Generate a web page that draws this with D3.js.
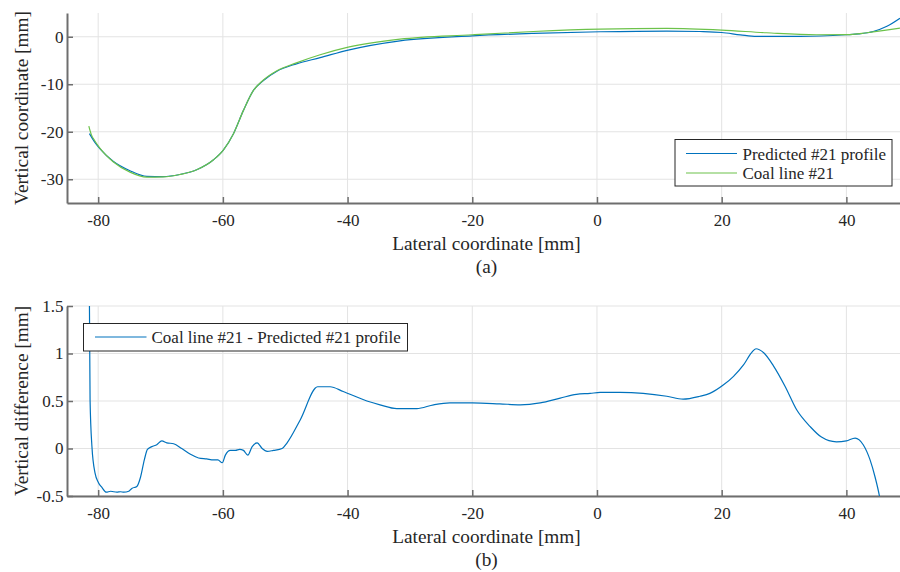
<!DOCTYPE html>
<html>
<head>
<meta charset="utf-8">
<script src="https://cdn.jsdelivr.net/npm/d3@7/dist/d3.min.js"></script>
<style>
  html, body { margin: 0; padding: 0; background: #fff; }
  svg, svg text { font-family: "Liberation Serif", "DejaVu Serif", "Times New Roman", Times, serif; }
</style>
</head>
<body>
<svg id="chart" width="900" height="572"></svg>
<script>
// Profile #21: predicted profile vs. measured coal line (lateral / vertical, mm)
const predictedX = [-81.4, -80.5, -79.7, -77.6, -74.9, -72.2, -69.6, -66.9, -64.2, -61.5, -59.9, -58.3, -56.7, -55.1, -53.5, -51.4, -48.2, -44.4, -39.9, -31.6, -20, -10.2, 0.5, 11.2, 16.5, 20, 23, 25.6, 32.6, 40, 42, 44.3, 46.5, 48.6];
const predictedY = [-20.4, -22.3, -23.6, -26.2, -28.2, -29.4, -29.45, -29.0, -28.0, -25.9, -23.8, -20.4, -15.5, -11.3, -9.2, -7.3, -5.7, -4.4, -2.8, -0.85, 0.2, 0.7, 1.05, 1.2, 1.1, 0.9, 0.4, 0.06, 0.06, 0.42, 0.6, 1.1, 2.2, 3.9];

const coalX = [-81.5, -81.1, -80.5, -79.7, -77.6, -74.9, -72.2, -69.6, -66.9, -64.2, -61.5, -59.9, -58.3, -56.7, -55.1, -53.5, -51.4, -48.2, -44.4, -39.9, -31.6, -20, -10.2, 0.5, 11.2, 20, 27.2, 35.2, 40, 43.3, 48.6];
const coalY = [-18.8, -20.6, -22.0, -23.5, -26.3, -28.5, -29.55, -29.5, -29.0, -28.0, -25.9, -23.8, -20.4, -15.5, -11.3, -9.1, -7.2, -5.5, -3.8, -2.2, -0.5, 0.42, 1.1, 1.6, 1.75, 1.4, 0.84, 0.42, 0.45, 0.84, 1.8];

// Difference: coal line minus predicted profile
const diffX = [-81.6, -81.4, -81.3, -81.0, -80.5, -79.95, -79.4, -78.7, -78.0, -77.0, -76.4, -75.9, -75.1, -74.6, -73.8, -73.2, -72.6, -72.1, -71.4, -70.6, -69.8, -69.0, -67.9, -66.6, -65.2, -63.9, -62.6, -61.5, -60.8, -60.1, -59.6, -58.8, -58.0, -57.3, -56.7, -56.0, -55.3, -54.5, -53.7, -52.9, -51.9, -50.5, -49.7, -47.6, -44.8, -42.8, -40.7, -36.9, -34.8, -32.1, -28.9, -26.2, -23.6, -20, -15.6, -12.3, -9.1, -5.9, -3.3, -1.1, 0.5, 3.7, 7.4, 11.2, 13.8, 16.5, 18.1, 20.3, 21.9, 23.5, 24.8, 25.5, 26.7, 28.3, 30.2, 32.0, 34.2, 36.0, 38.4, 40, 41.4, 42.7, 43.8, 44.6, 45.3, 45.8];
const diffY = [2.0, 1.5, 0.51, 0.02, -0.26, -0.36, -0.41, -0.46, -0.45, -0.46, -0.455, -0.46, -0.45, -0.42, -0.40, -0.30, -0.12, -0.01, 0.02, 0.04, 0.08, 0.06, 0.05, 0.00, -0.06, -0.10, -0.11, -0.12, -0.12, -0.15, -0.07, -0.02, -0.02, -0.01, -0.02, -0.07, 0.02, 0.06, 0.00, -0.03, -0.02, 0.00, 0.06, 0.30, 0.65, 0.65, 0.60, 0.50, 0.46, 0.42, 0.42, 0.46, 0.48, 0.48, 0.47, 0.46, 0.48, 0.53, 0.57, 0.58, 0.59, 0.59, 0.58, 0.55, 0.52, 0.55, 0.58, 0.67, 0.76, 0.88, 1.01, 1.05, 1.01, 0.87, 0.65, 0.41, 0.23, 0.12, 0.07, 0.08, 0.11, 0.04, -0.12, -0.30, -0.50, -0.7];

const xTicks = [-80, -60, -40, -20, 0, 20, 40];
const yTicksTop = [-30, -20, -10, 0];
const yTicksBottom = [-0.5, 0, 0.5, 1, 1.5];
const yTickLabelsBottom = ["-0.5", "0", "0.5", "1", "1.5"];

const seriesNames = ["Predicted #21 profile", "Coal line #21"];
const diffName = "Coal line #21 - Predicted #21 profile";

const FONT = '"Liberation Serif", "DejaVu Serif", "Times New Roman", Times, serif';
const BLUE = "#0072BD";
const GREEN = "#6cc24a";
const GRID = "#e3e3e3";
const AXIS = "#6e6e6e";
const TEXT = "#262626";

const svg = d3.select("#chart");
const xDomain = [-85, 48.6];
const left = 67, right = 900;

function label(g, x, y, txt, size, rotate) {
  const t = g.append("text")
    .attr("text-anchor", "middle").attr("fill", TEXT)
    .attr("font-family", FONT).attr("font-size", size)
    .text(txt);
  if (rotate) t.attr("transform", `translate(${x},${y}) rotate(-90)`);
  else t.attr("x", x).attr("y", y);
  return t;
}

function panel(opts) {
  const { top, bottom, yDomain, yTicks, yFmt, yLabel, caption, id } = opts;
  const x = d3.scaleLinear().domain(xDomain).range([left, right]);
  const y = d3.scaleLinear().domain(yDomain).range([bottom, top]);
  const g = svg.append("g");

  // grid
  g.append("g").selectAll("line").data(xTicks).join("line")
    .attr("x1", d => x(d)).attr("x2", d => x(d))
    .attr("y1", top).attr("y2", bottom)
    .attr("stroke", GRID).attr("stroke-width", 1);
  g.append("g").selectAll("line").data(yTicks).join("line")
    .attr("x1", left).attr("x2", right)
    .attr("y1", d => y(d)).attr("y2", d => y(d))
    .attr("stroke", GRID).attr("stroke-width", 1);

  // clip region for the data lines
  svg.append("clipPath").attr("id", id)
    .append("rect").attr("x", left).attr("y", top)
    .attr("width", right - left).attr("height", bottom - top);

  // axes with inward ticks
  const ax = g.append("g").attr("transform", `translate(0,${bottom})`)
    .call(d3.axisBottom(x).tickValues(xTicks).tickSize(-6).tickSizeOuter(0).tickPadding(11)
      .tickFormat(d => d < 0 ? "-" + Math.abs(d) : String(d)));
  const ay = g.append("g").attr("transform", `translate(${left},0)`)
    .call(d3.axisLeft(y).tickValues(yTicks).tickSize(-6).tickSizeOuter(0).tickPadding(3.5).tickFormat(yFmt));
  [ax, ay].forEach(a => {
    a.attr("font-family", FONT).attr("font-size", 17);
    a.select(".domain").attr("stroke", AXIS).attr("stroke-width", 2);
    a.selectAll(".tick line").attr("stroke", AXIS).attr("stroke-width", 1.5);
    a.selectAll(".tick text").attr("fill", TEXT);
  });

  // titles
  label(g, (left + right) / 2 + 3, bottom + 47, "Lateral coordinate [mm]", 19.3);
  label(g, (left + right) / 2 + 3, bottom + 70, caption, 19.3);
  label(g, 28, (top + bottom) / 2, yLabel, 19.3, true);

  return { x, y, g };
}

// Panel (a)
const pa = panel({
  top: 13, bottom: 203, yDomain: [-35, 5], yTicks: yTicksTop,
  yFmt: d => d < 0 ? "-" + Math.abs(d) : String(d),
  yLabel: "Vertical coordinate [mm]", caption: "(a)", id: "clipA"
});
const lineA = d3.line().x(d => pa.x(d[0])).y(d => pa.y(d[1])).curve(d3.curveMonotoneX);
pa.g.append("path").datum(d3.zip(predictedX, predictedY)).attr("d", lineA)
  .attr("clip-path", "url(#clipA)")
  .attr("fill", "none").attr("stroke", BLUE).attr("stroke-width", 1.2);
pa.g.append("path").datum(d3.zip(coalX, coalY)).attr("d", lineA)
  .attr("clip-path", "url(#clipA)")
  .attr("fill", "none").attr("stroke", GREEN).attr("stroke-width", 1.2);

// legend (a)
const lgA = pa.g.append("g").attr("transform", "translate(675,139.5)");
lgA.append("rect").attr("width", 217).attr("height", 46.5)
  .attr("fill", "#fff").attr("stroke", TEXT).attr("stroke-width", 1);
[[BLUE, seriesNames[0], 14], [GREEN, seriesNames[1], 33.5]].forEach(([c, t, yy]) => {
  lgA.append("line").attr("x1", 11).attr("x2", 62).attr("y1", yy).attr("y2", yy)
    .attr("stroke", c).attr("stroke-width", 1.2);
  lgA.append("text").attr("x", 67.5).attr("y", yy + 6).attr("fill", TEXT)
    .attr("font-family", FONT).attr("font-size", 17).text(t);
});

// Panel (b)
const pb = panel({
  top: 306, bottom: 496, yDomain: [-0.5, 1.5], yTicks: yTicksBottom,
  yFmt: (d, i) => yTickLabelsBottom[i],
  yLabel: "Vertical difference [mm]", caption: "(b)", id: "clipB"
});
const lineB = d3.line().x(d => pb.x(d[0])).y(d => pb.y(d[1])).curve(d3.curveMonotoneX);
pb.g.append("path").datum(d3.zip(diffX, diffY)).attr("d", lineB)
  .attr("clip-path", "url(#clipB)")
  .attr("fill", "none").attr("stroke", BLUE).attr("stroke-width", 1.2)
  .attr("stroke-linejoin", "round");

// legend (b)
const lgB = pb.g.append("g").attr("transform", "translate(83.5,323.5)");
lgB.append("rect").attr("width", 324).attr("height", 27.5)
  .attr("fill", "#fff").attr("stroke", TEXT).attr("stroke-width", 1);
lgB.append("line").attr("x1", 11.5).attr("x2", 63).attr("y1", 13.5).attr("y2", 13.5)
  .attr("stroke", BLUE).attr("stroke-width", 1.2);
lgB.append("text").attr("x", 68).attr("y", 19.5).attr("fill", TEXT)
  .attr("font-family", FONT).attr("font-size", 17).text(diffName);
</script>
</body>
</html>
